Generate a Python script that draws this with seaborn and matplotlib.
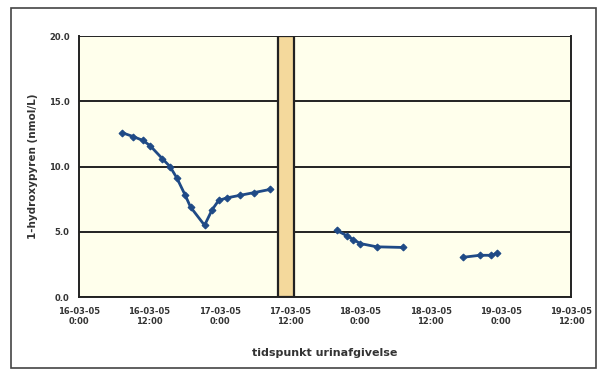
import numpy as np
import pandas as pd
import matplotlib
matplotlib.use("Agg")
import matplotlib.pyplot as plt
import seaborn as sns
from matplotlib.patches import Rectangle

# --- data (hours since 16-03-05 0:00) ---
seg1_hours = [7.3, 9.2, 10.9, 12.1, 14.2, 15.5, 16.7, 18.1, 19.0, 21.4, 22.7, 23.8, 25.2, 27.5, 29.8, 32.6]
seg1_values = [12.6, 12.3, 12.0, 11.6, 10.6, 10.0, 9.1, 7.8, 6.9, 5.5, 6.7, 7.4, 7.6, 7.8, 8.0, 8.25]
seg2_hours = [44.0, 45.7, 46.8, 48.0, 50.8, 55.3]
seg2_values = [5.1, 4.7, 4.4, 4.1, 3.85, 3.8]
seg3_hours = [65.6, 68.4, 70.4, 71.3]
seg3_values = [3.05, 3.2, 3.2, 3.35]

bar_start, bar_end = 34.0, 36.6

tick_hours = [0, 12, 24, 36, 48, 60, 72, 84]
tick_labels = ["16-03-05\n0:00", "16-03-05\n12:00", "17-03-05\n0:00", "17-03-05\n12:00",
               "18-03-05\n0:00", "18-03-05\n12:00", "19-03-05\n0:00", "19-03-05\n12:00"]
y_ticks = [0.0, 5.0, 10.0, 15.0, 20.0]

xlabel = "tidspunkt urinafgivelse"
ylabel = "1-hydroxypyren (nmol/L)"

df = pd.concat([
    pd.DataFrame({"t": seg1_hours, "v": seg1_values, "seg": 1}),
    pd.DataFrame({"t": seg2_hours, "v": seg2_values, "seg": 2}),
    pd.DataFrame({"t": seg3_hours, "v": seg3_values, "seg": 3}),
])

sns.set_style("white")
plt.rcParams["font.family"] = ["DejaVu Sans"]

fig = plt.figure(figsize=(6.05, 3.76), dpi=100)
ax = fig.add_axes([0.131, 0.21, 0.813, 0.694])
ax.set_facecolor("#FFFFEC")

for y in y_ticks:
    ax.axhline(y, color="#222222", lw=1.4, zorder=1)

ax.axvspan(bar_start, bar_end, facecolor="#F4D99C", edgecolor="#222222", lw=1.6, zorder=2)

sns.lineplot(data=df, x="t", y="v", units="seg", estimator=None, color="#1F4A86",
             marker="D", markersize=3.5, markeredgecolor="#1F4A86", lw=2.0, ax=ax, zorder=3)

ax.set_xlim(0, 84)
ax.set_ylim(0, 20)
ax.set_xticks(tick_hours)
ax.set_xticklabels(tick_labels, fontsize=6, fontweight="bold", color="#333333")
ax.set_yticks(y_ticks)
ax.set_yticklabels([f"{v:.1f}" for v in y_ticks], fontsize=6, fontweight="bold", color="#333333")
ax.tick_params(axis="both", direction="out", length=3, width=1, color="#222222", pad=4)
ax.set_xlabel(xlabel, fontsize=8, fontweight="bold", color="#333333", labelpad=16)
ax.set_ylabel(ylabel, fontsize=7.5, fontweight="bold", color="#333333", labelpad=8)

for side in ["left", "bottom", "right"]:
    ax.spines[side].set_visible(True)
    ax.spines[side].set_color("#222222")
    ax.spines[side].set_linewidth(1.4)
ax.spines["top"].set_visible(False)

fig.patches.append(Rectangle((0.018, 0.02), 0.967, 0.96, transform=fig.transFigure,
                             fill=False, edgecolor="#444444", lw=1.2))

fig.savefig("out.png", dpi=100)
